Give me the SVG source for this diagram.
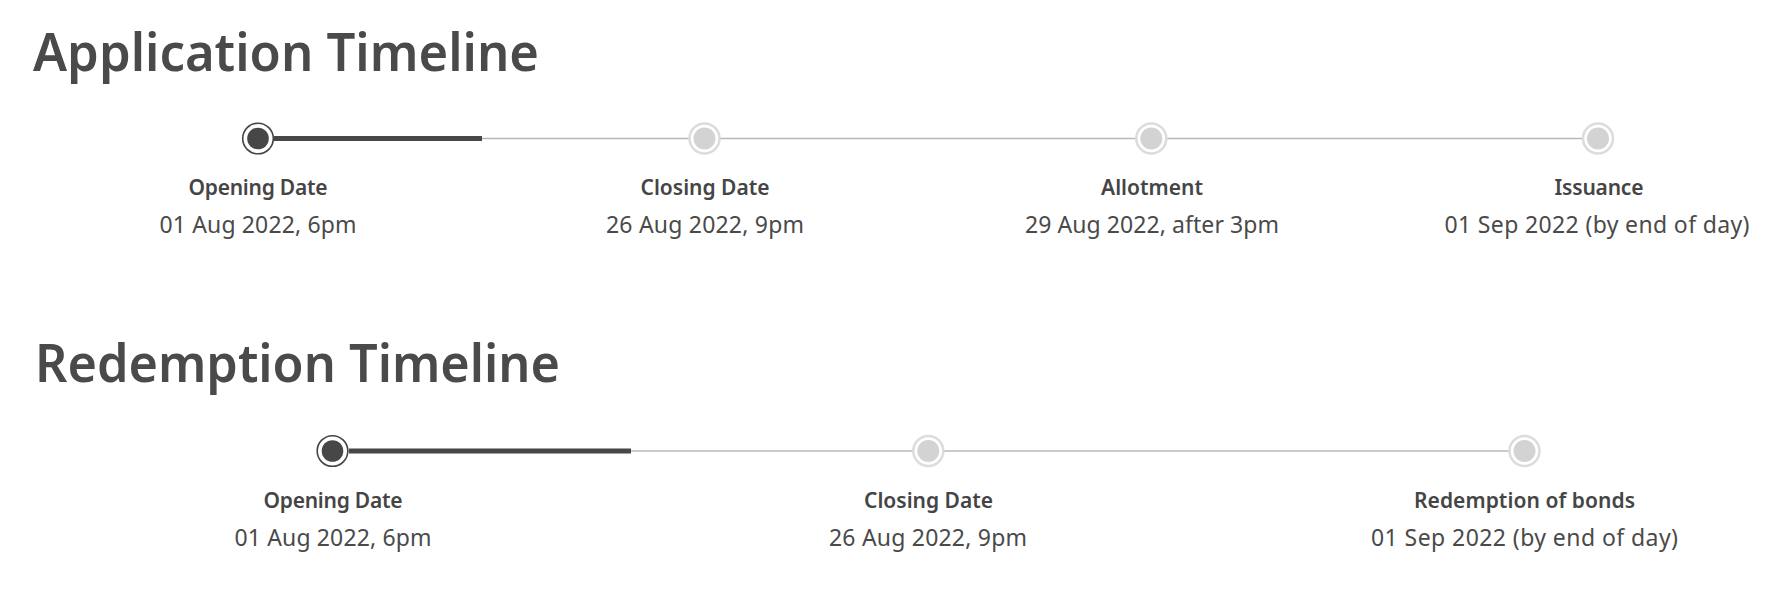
<svg xmlns="http://www.w3.org/2000/svg" width="1776" height="601" viewBox="0 0 1776 601">
  <style>
    .title { font-family: "Noto Sans", "Open Sans", "Liberation Sans", sans-serif; font-size: 53px; font-weight: 600; fill: #4a4a4a; }
    .label { font-family: "Noto Sans", "Open Sans", "Liberation Sans", sans-serif; font-size: 21px; font-weight: 600; fill: #454545; text-anchor: middle; }
    .date { font-family: "Noto Sans", "Open Sans", "Liberation Sans", sans-serif; font-size: 23px; font-weight: 400; fill: #4a4a4a; text-anchor: middle; }
    .track { stroke: #b8b8b8; stroke-width: 1.3; fill: none; }
    .progress { stroke: #474747; stroke-width: 5; fill: none; }
    .ring-active { fill: #ffffff; stroke: #444444; stroke-width: 1.6; }
    .dot-active { fill: #474747; }
    .ring { fill: #ffffff; stroke: #dcdcdc; stroke-width: 2.5; }
    .dot { fill: #d3d3d3; }
  </style>
  <rect width="1776" height="601" fill="#ffffff"/>

  <text class="title" x="33" y="70.5" textLength="506" lengthAdjust="spacingAndGlyphs">Application Timeline</text>
  <text class="title" x="35" y="382" textLength="525" lengthAdjust="spacingAndGlyphs">Redemption Timeline</text>

  <g id="connectors">
    <line class="track" x1="258" y1="138.5" x2="1598" y2="138.5"/>
    <line class="progress" x1="274" y1="138.5" x2="482" y2="138.5"/>
    <line class="track" x1="332.5" y1="451" x2="1524.5" y2="451"/>
    <line class="progress" x1="349" y1="451" x2="631" y2="451"/>
  </g>

  <g id="app-opening">
    <circle class="ring-active" cx="258" cy="138.5" r="15.3"/>
    <circle class="dot-active" cx="258" cy="138.5" r="10.8"/>
    <text class="label" x="258" y="195" textLength="139">Opening Date</text>
    <text class="date" x="258" y="233" textLength="197">01 Aug 2022, 6pm</text>
  </g>
  <g id="app-closing">
    <circle class="ring" cx="704.5" cy="138.5" r="15"/>
    <circle class="dot" cx="704.5" cy="138.5" r="11"/>
    <text class="label" x="705" y="195" textLength="129">Closing Date</text>
    <text class="date" x="705" y="233" textLength="198">26 Aug 2022, 9pm</text>
  </g>
  <g id="app-allotment">
    <circle class="ring" cx="1151.3" cy="138.5" r="15"/>
    <circle class="dot" cx="1151.3" cy="138.5" r="11"/>
    <text class="label" x="1152" y="195" textLength="102">Allotment</text>
    <text class="date" x="1152" y="233" textLength="254">29 Aug 2022, after 3pm</text>
  </g>
  <g id="app-issuance">
    <circle class="ring" cx="1598" cy="138.5" r="15"/>
    <circle class="dot" cx="1598" cy="138.5" r="11"/>
    <text class="label" x="1599" y="195" textLength="89">Issuance</text>
    <text class="date" x="1597" y="233" textLength="305">01 Sep 2022 (by end of day)</text>
  </g>

  <g id="red-opening">
    <circle class="ring-active" cx="332.5" cy="451" r="15.3"/>
    <circle class="dot-active" cx="332.5" cy="451" r="10.8"/>
    <text class="label" x="333" y="507.5" textLength="139">Opening Date</text>
    <text class="date" x="333" y="545.5" textLength="197">01 Aug 2022, 6pm</text>
  </g>
  <g id="red-closing">
    <circle class="ring" cx="928.3" cy="451" r="15"/>
    <circle class="dot" cx="928.3" cy="451" r="11"/>
    <text class="label" x="928.5" y="507.5" textLength="129">Closing Date</text>
    <text class="date" x="928" y="545.5" textLength="198">26 Aug 2022, 9pm</text>
  </g>
  <g id="red-redemption">
    <circle class="ring" cx="1524.5" cy="451" r="15"/>
    <circle class="dot" cx="1524.5" cy="451" r="11"/>
    <text class="label" x="1524.5" y="507.5" textLength="221">Redemption of bonds</text>
    <text class="date" x="1524.5" y="545.5" textLength="307">01 Sep 2022 (by end of day)</text>
  </g>
</svg>
